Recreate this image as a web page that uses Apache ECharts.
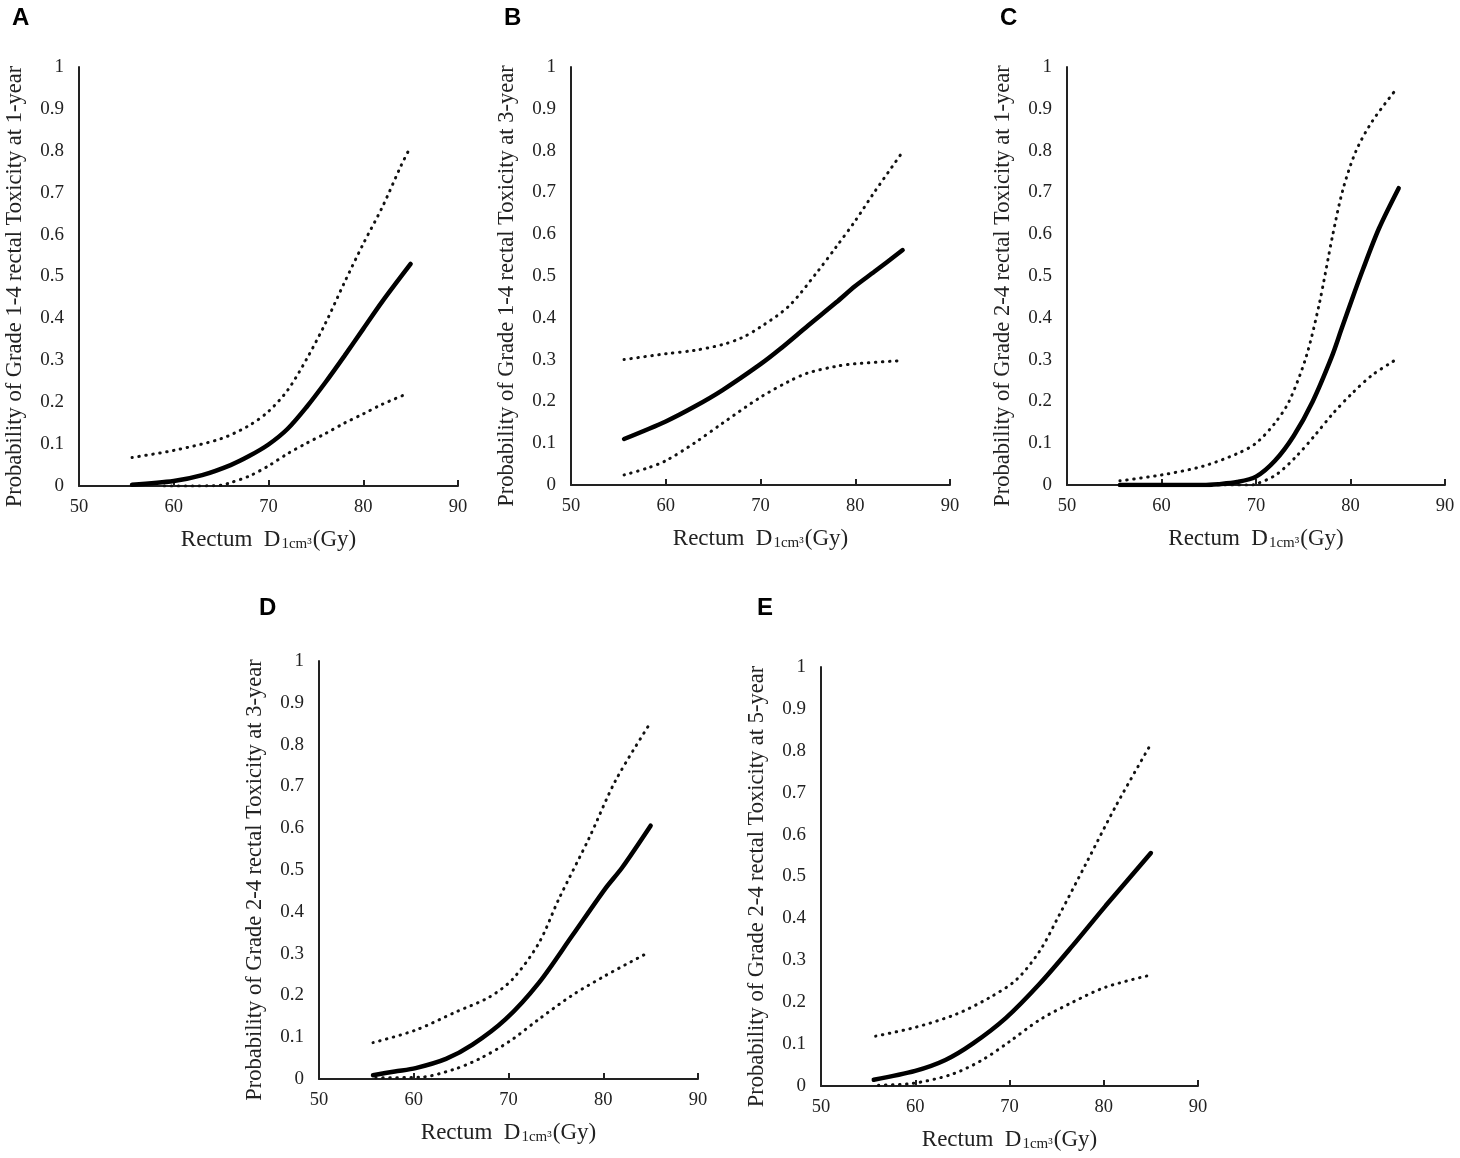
<!DOCTYPE html>
<html>
<head>
<meta charset="utf-8">
<script src="https://cdn.jsdelivr.net/npm/echarts@6/dist/echarts.min.js"></script>
<style>
html,body{margin:0;padding:0;background:#fff;}
#c{width:1460px;height:1158px;}
</style>
</head>
<body>
<div id="c"></div>
<script>
// ---- Data (Rectum D1cc in Gy, probability) ----
const xTicks = [50, 60, 70, 80, 90];
const yTicks = [0, 0.1, 0.2, 0.3, 0.4, 0.5, 0.6, 0.7, 0.8, 0.9, 1];

const panelLetters = ['A', 'B', 'C', 'D', 'E'];
const yTitles = [
  'Probability of Grade 1-4 rectal Toxicity at 1-year',
  'Probability of Grade 1-4 rectal Toxicity at 3-year',
  'Probability of Grade 2-4 rectal Toxicity at 1-year',
  'Probability of Grade 2-4 rectal Toxicity at 3-year',
  'Probability of Grade 2-4 rectal Toxicity at 5-year'
];

// Panel A
const A_mid = [[55.6,0.003],[60,0.012],[63,0.026],[66,0.05],[68,0.072],[70,0.099],[72,0.136],[74,0.188],[76,0.247],[78,0.31],[80,0.375],[82,0.44],[85,0.53]];
const A_up  = [[55.6,0.068],[60,0.085],[65,0.113],[68,0.145],[70,0.178],[72,0.228],[74,0.302],[76,0.388],[78,0.485],[80,0.578],[82,0.665],[84,0.765],[85,0.81]];
const A_lo  = [[59,0.0],[62,0.0],[65,0.002],[66,0.008],[68,0.024],[70,0.048],[72,0.077],[74,0.102],[76,0.125],[78,0.15],[80,0.172],[82,0.195],[84.5,0.219]];
// Panel B
const B_mid = [[55.6,0.11],[60,0.152],[63,0.187],[66,0.227],[70,0.289],[72,0.324],[75,0.381],[78,0.437],[80,0.476],[82,0.51],[85,0.562]];
const B_up  = [[55.6,0.30],[60,0.314],[63,0.322],[66,0.336],[68,0.352],[70,0.378],[73,0.428],[76,0.51],[78,0.57],[80,0.632],[82,0.7],[85,0.797]];
const B_lo  = [[55.6,0.024],[58,0.04],[60,0.058],[63,0.1],[66,0.148],[70,0.21],[73,0.248],[75,0.268],[78,0.284],[80,0.29],[84.5,0.297]];
// Panel C
const C_mid = [[55.6,0.0],[60,0.0],[64.4,0.0],[66,0.002],[68,0.007],[70,0.02],[72,0.058],[74,0.118],[76,0.2],[78,0.306],[79,0.37],[80.2,0.447],[81.3,0.515],[83,0.613],[85.1,0.71]];
const C_up  = [[55.6,0.01],[60,0.024],[64.4,0.045],[68,0.075],[70,0.1],[72,0.148],[73.5,0.2],[75.3,0.306],[76.7,0.434],[78.1,0.596],[79.2,0.707],[80.6,0.8],[82.3,0.87],[84.6,0.94]];
const C_lo  = [[55.6,0.0],[60,0.0],[65,0.0],[69.5,0.0],[70,0.002],[72.1,0.024],[74.2,0.067],[76.2,0.118],[78.1,0.17],[80.2,0.22],[82.3,0.263],[84.6,0.297]];
// Panel D
const D_mid = [[55.7,0.009],[58,0.018],[60.2,0.026],[63.4,0.048],[66.2,0.082],[69.7,0.143],[73.2,0.23],[76.7,0.342],[80.2,0.455],[82,0.506],[85,0.606]];
const D_up  = [[55.7,0.087],[60.2,0.117],[64.4,0.16],[67.9,0.195],[70.4,0.238],[73.2,0.325],[75.3,0.43],[78.5,0.576],[81.3,0.714],[85,0.853]];
const D_lo  = [[56,0.003],[60.6,0.004],[64.1,0.022],[66.9,0.048],[70.1,0.09],[73.2,0.143],[76.7,0.2],[80.2,0.247],[84.8,0.303]];
// Panel E
const E_mid = [[55.6,0.015],[60,0.036],[63.2,0.062],[66.1,0.101],[69.6,0.162],[73.2,0.244],[76.7,0.335],[80.2,0.43],[85,0.556]];
const E_up  = [[55.8,0.119],[60,0.14],[64.3,0.171],[67.8,0.21],[70.7,0.253],[73.2,0.322],[75.3,0.409],[78.1,0.53],[81.3,0.669],[85,0.816]];
const E_lo  = [[56.1,0.002],[59.7,0.006],[63.9,0.028],[67.1,0.062],[70,0.106],[73.2,0.158],[76.7,0.2],[80.2,0.236],[85.2,0.266]];

const panelData = [
  [A_mid, A_up, A_lo],
  [B_mid, B_up, B_lo],
  [C_mid, C_up, C_lo],
  [D_mid, D_up, D_lo],
  [E_mid, E_up, E_lo]
];

// ---- Layout ----
const grids = [
  {left: 79,  top: 67,  width: 379, height: 419},
  {left: 571, top: 67,  width: 379, height: 418},
  {left: 1067,top: 67,  width: 378, height: 418},
  {left: 319, top: 661, width: 379, height: 418},
  {left: 821, top: 667, width: 377, height: 419}
];
const letterPos = [[12,6],[504,6],[1000,6],[259,596],[757,596]];

const serif = '"Liberation Serif", "DejaVu Serif", serif';
const axisColor = '#222';

const xAxes = [], yAxes = [], series = [], graphics = [];
grids.forEach((g, i) => {
  xAxes.push({
    type: 'value', gridIndex: i, min: xTicks[0], max: xTicks[xTicks.length-1], interval: 10,
    name: '{a|Rectum  D}{s|1cm³}{a|(Gy)}',
    nameLocation: 'middle', nameGap: 42,
    nameTextStyle: {
      rich: {
        a: {fontFamily: serif, fontSize: 23, color: axisColor},
        s: {fontFamily: serif, fontSize: 15, color: axisColor, verticalAlign: 'bottom', padding: [9,1,0,1]}
      }
    },
    axisLine: {show: true, lineStyle: {color: axisColor, width: 2}},
    axisTick: {show: true, inside: true, length: 6, lineStyle: {color: axisColor, width: 2}},
    axisLabel: {fontFamily: serif, fontSize: 18.5, color: axisColor, margin: 12},
    splitLine: {show: false}
  });
  yAxes.push({
    type: 'value', gridIndex: i, min: 0, max: 1, interval: 0.1,
    name: yTitles[i],
    nameLocation: 'middle', nameGap: 52, nameRotate: 90,
    nameTextStyle: {fontFamily: serif, fontSize: 22.5, color: axisColor, padding: [0, 20, 0, 0]},
    axisLine: {show: true, lineStyle: {color: axisColor, width: 2}},
    axisTick: {show: false},
    axisLabel: {fontFamily: serif, fontSize: 19, color: axisColor, margin: 15,
      formatter: v => String(Math.round(v*10)/10)},
    splitLine: {show: false}
  });
  const [mid, up, lo] = panelData[i];
  series.push({
    type: 'line', xAxisIndex: i, yAxisIndex: i, data: mid, symbol: 'none',
    smooth: 0.3,
    lineStyle: {color: '#000', width: 4.5, cap: 'round'}, z: 3
  });
  [up, lo].forEach(d => series.push({
    type: 'line', xAxisIndex: i, yAxisIndex: i, data: d, symbol: 'none',
    smooth: 0.3,
    lineStyle: {color: '#111', width: 3, type: [0.5, 6.5], cap: 'round'}, z: 2
  }));
  graphics.push({
    type: 'text', left: letterPos[i][0], top: letterPos[i][1],
    style: {text: panelLetters[i], font: 'bold 24px "Liberation Sans", Arial, sans-serif', fill: '#000'}
  });
});

const chart = echarts.init(document.getElementById('c'), null, {renderer: 'canvas'});
chart.setOption({
  backgroundColor: '#fff',
  animation: false,
  grid: grids.map(g => Object.assign({containLabel: false}, g)),
  xAxis: xAxes,
  yAxis: yAxes,
  series: series,
  graphic: graphics
});
</script>
</body>
</html>
